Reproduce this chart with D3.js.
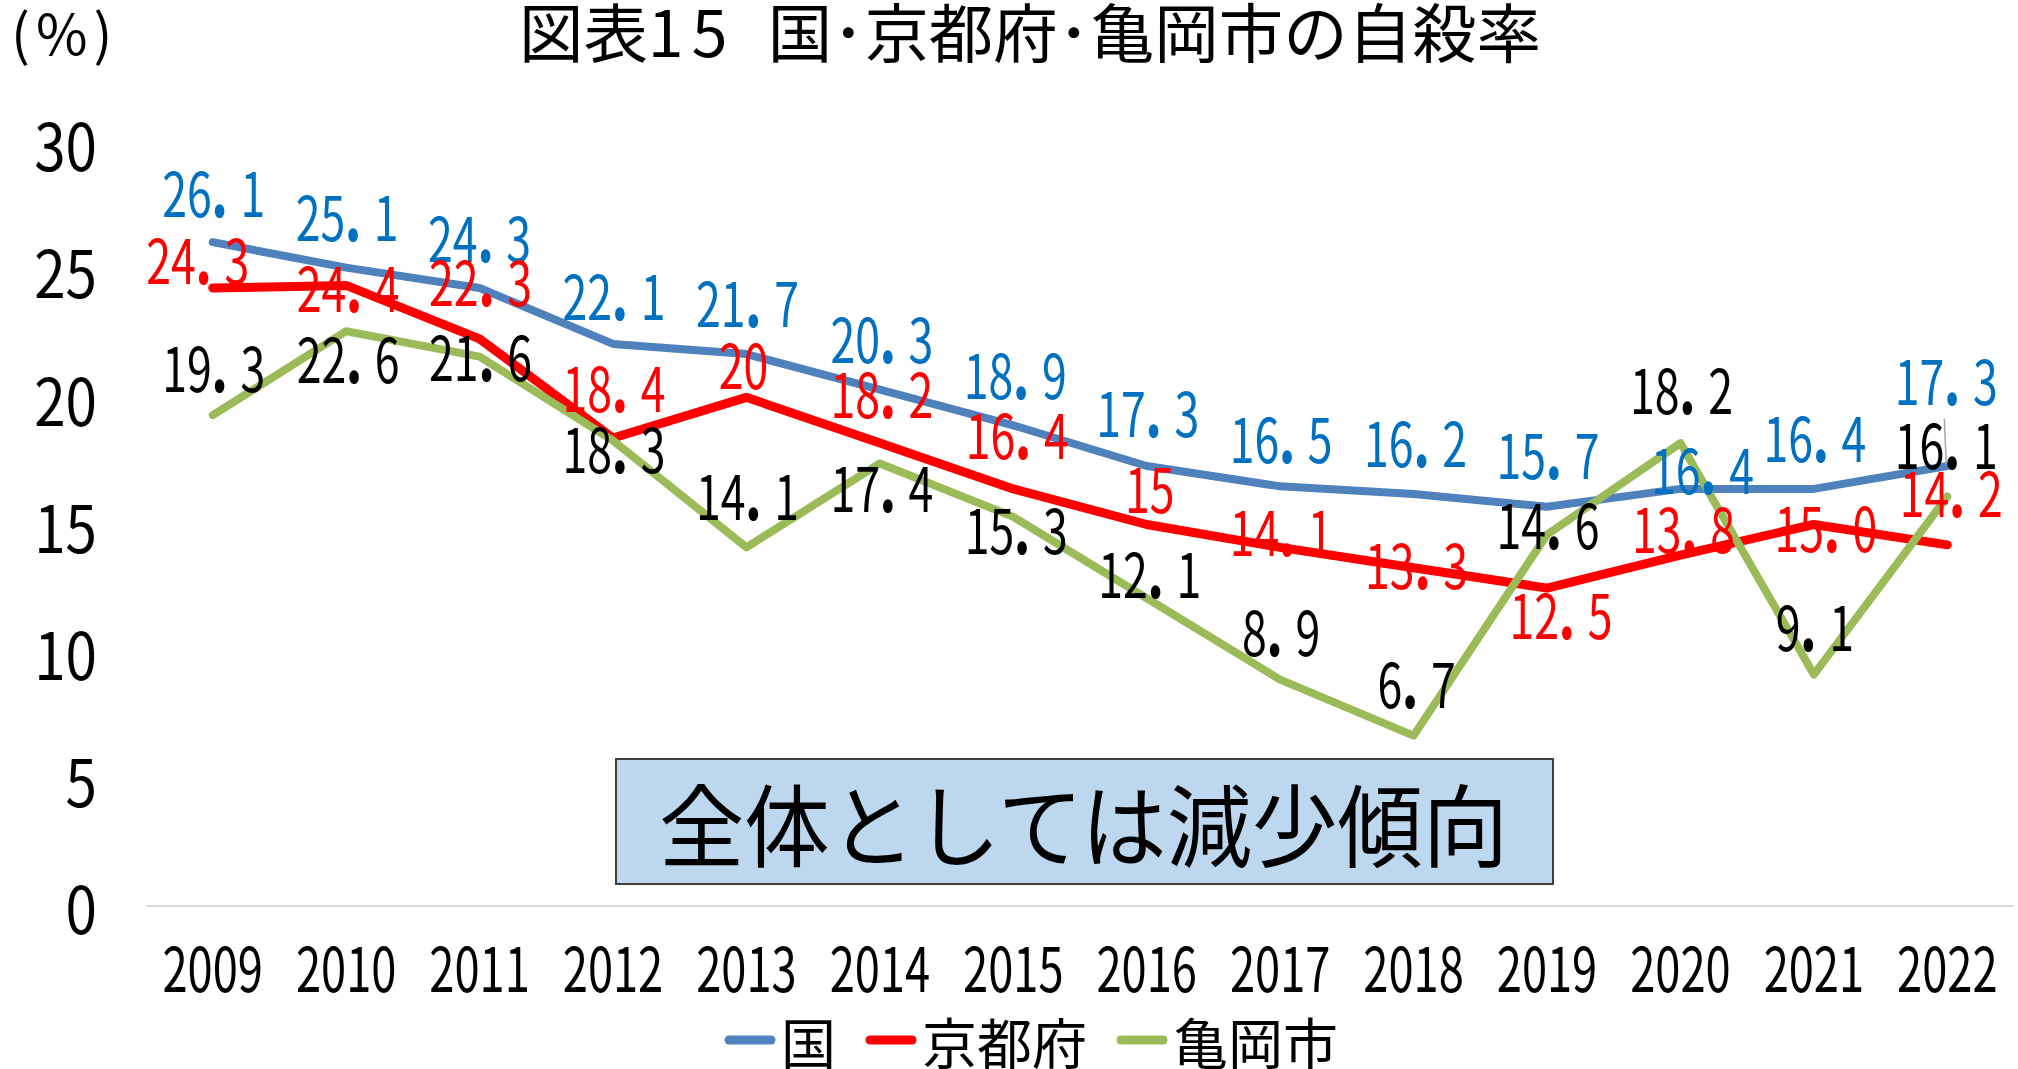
<!DOCTYPE html>
<html lang="ja">
<head>
<meta charset="utf-8">
<script src="https://cdn.jsdelivr.net/npm/d3@7"></script>
<style>
  body { margin: 0; background: #fff; }
  svg { display: block; font-family: "Noto Sans CJK JP", sans-serif; }
</style>
</head>
<body>
<svg id="chart" width="2018" height="1069"></svg>
<script>
const years = ["2009", "2010", "2011", "2012", "2013", "2014", "2015",
    "2016", "2017", "2018", "2019", "2020", "2021", "2022"];
// values as shown on the labels
const kuni = ["26.1", "25.1", "24.3", "22.1", "21.7", "20.3", "18.9",
    "17.3", "16.5", "16.2", "15.7", "16.4", "16.4", "17.3"];
const kyotofu = ["24.3", "24.4", "22.3", "18.4", "20", "18.2", "16.4",
    "15", "14.1", "13.3", "12.5", "13.8", "15.0", "14.2"];
const kameoka = ["19.3", "22.6", "21.6", "18.3", "14.1", "17.4", "15.3",
    "12.1", "8.9", "6.7", "14.6", "18.2", "9.1", "16.1"];
const yTicks = [0, 5, 10, 15, 20, 25, 30];
const seriesNames = ["国", "京都府", "亀岡市"];

// hand placed label offsets (px from the point), like the original
const kuniOffsets = [[1, -53], [1, -54], [0, -54], [1, -51], [1, -55], [2, -54], [2, -54],
    [1, -57], [1, -51], [2, -55], [1, -55], [22, -22], [1, -54], [-1, -89]];
const kyotofuOffsets = [[-15, -32], [2, -1], [1, -60], [1, -54], [-3, -36], [2, -53], [4, -57],
    [3, -39], [1, -19], [3, -6], [14, 23], [3, -30], [12, 0], [4, -55]];
const kameokaOffsets = [[1, -51], [2, 24], [1, -3], [1, 5], [1, -55], [2, 21], [3, 10],
    [3, -28], [1, -51], [3, -55], [1, -13], [1, -57], [1, -51], [-1, -55]];

const svg = d3.select("#chart");

const x = d3.scalePoint().domain(years).range([146, 2014]).padding(0.5);
const y = d3.scaleLinear().domain([0, 30]).range([906, 143]);

const series = [
    { name: seriesNames[0], values: kuni, color: "#4F81BD", labelColor: "#0070C0", width: 8, offsets: kuniOffsets },
    { name: seriesNames[1], values: kyotofu, color: "#FF0000", labelColor: "#FF0000", width: 9, offsets: kyotofuOffsets },
    { name: seriesNames[2], values: kameoka, color: "#9BBB59", labelColor: "#000000", width: 8, offsets: kameokaOffsets },
];

// title + unit
const title = svg.append("text")
    .attr("x", 519)
    .attr("y", 57)
    .attr("font-size", 64)
    .attr("textLength", 1022)
    .attr("lengthAdjust", "spacingAndGlyphs");
title.append("tspan").text("図表");
title.append("tspan").attr("letter-spacing", 8).text("15");
title.append("tspan").text("\u2002国･京都府･亀岡市の自殺率");
svg.append("text")
    .attr("x", 11)
    .attr("y", 55)
    .attr("font-size", 56)
    .attr("letter-spacing", 6)
    .text("(%)");

// baseline
svg.append("line")
    .attr("x1", 146)
    .attr("x2", 2014)
    .attr("y1", y(0))
    .attr("y2", y(0))
    .attr("stroke", "#D9D9D9")
    .attr("stroke-width", 2);

// y ticks
svg.append("g")
    .selectAll("text")
    .data(yTicks)
    .join("text")
    .attr("transform", (d) => `translate(97,${y(d)}) scale(0.87,1)`)
    .attr("text-anchor", "end")
    .attr("dominant-baseline", "central")
    .attr("font-size", 65)
    .text((d) => d);

// x ticks
svg.append("g")
    .selectAll("text")
    .data(years)
    .join("text")
    .attr("transform", (d) => `translate(${x(d)},965) scale(0.73,1)`)
    .attr("text-anchor", "middle")
    .attr("dominant-baseline", "central")
    .attr("font-size", 62)
    .text((d) => d);

// lines
const line = d3.line()
    .x((d, i) => x(years[i]))
    .y((d) => y(+d));

series.forEach((s) => {
    svg.append("path")
        .attr("d", line(s.values))
        .attr("fill", "none")
        .attr("stroke", s.color)
        .attr("stroke-width", s.width)
        .attr("stroke-linejoin", "round")
        .attr("stroke-linecap", "round");
});

// annotation box
svg.append("rect")
    .attr("x", 616)
    .attr("y", 759)
    .attr("width", 937)
    .attr("height", 125)
    .attr("fill", "#BDD7EE")
    .attr("stroke", "#3F3F3F")
    .attr("stroke-width", 2);
svg.append("text")
    .attr("x", 659)
    .attr("y", 860)
    .attr("font-size", 90)
    .attr("textLength", 849)
    .attr("lengthAdjust", "spacingAndGlyphs")
    .text("全体としては減少傾向");

// leader line of the last 亀岡市 label
const last = years.length - 1;
svg.append("line")
    .attr("x1", x(years[last]) - 3)
    .attr("x2", x(years[last]) - 1)
    .attr("y1", y(+kameoka[last]) + kameokaOffsets[last][1] - 23)
    .attr("y2", y(+kameoka[last]) + kameokaOffsets[last][1] + 23)
    .attr("stroke", "#A6A6A6")
    .attr("stroke-width", 1.5);

// data labels
series.forEach((s) => {
    s.values.forEach((v, i) => {
        const [dx, dy] = s.offsets[i];
        const parts = v.split(".");
        const t = svg.append("text")
            .attr("transform", `translate(${x(years[i]) + dx},${y(+v) + dy}) scale(0.72,1)`)
            .attr("text-anchor", "middle")
            .attr("dominant-baseline", "central")
            .attr("font-size", 62)
            .attr("fill", s.labelColor);
        t.append("tspan").text(parts[0]);
        if (parts.length > 1) {
            t.append("tspan").attr("font-weight", "900").text(".");
            t.append("tspan").attr("dx", 18).text(parts[1]);
        }
    });
});

// legend
const legend = svg.append("g").attr("transform", "translate(725,1040)");
let lx = 0;
series.forEach((s) => {
    legend.append("line")
        .attr("x1", lx + 4)
        .attr("x2", lx + 46)
        .attr("stroke", s.color)
        .attr("stroke-width", 9)
        .attr("stroke-linecap", "round");
    const txt = legend.append("text")
        .attr("x", lx + 56)
        .attr("dominant-baseline", "central")
        .attr("font-size", 55)
        .text(s.name);
    lx += 56 + txt.node().getComputedTextLength() + 30;
});
</script>
</body>
</html>
